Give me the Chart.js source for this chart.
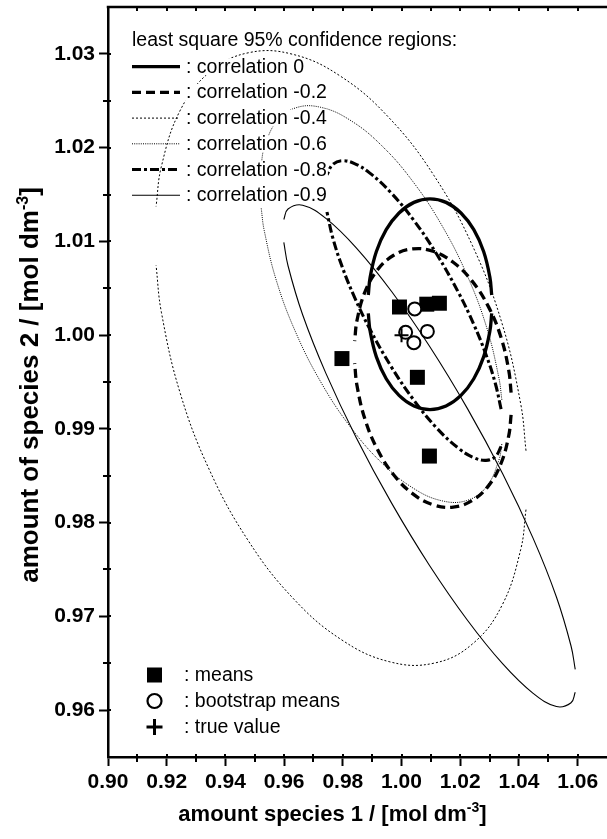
<!DOCTYPE html>
<html>
<head>
<meta charset="utf-8">
<script src="https://cdn.jsdelivr.net/npm/chart.js@4.4.1/dist/chart.umd.min.js"></script>
<style>
  html, body { margin: 0; padding: 0; background: #fff; }
  #wrap { width: 607px; height: 839px; }
</style>
</head>
<body>
<div id="wrap"><canvas id="c" width="607" height="839"></canvas></div>
<script>
const FONT = "'Liberation Sans', Arial, Helvetica, sans-serif";

// tick labels
const xTickLabels = ['0.90', '0.92', '0.94', '0.96', '0.98', '1.00', '1.02', '1.04', '1.06'];
const yTickLabels = ['0.96', '0.97', '0.98', '0.99', '1.00', '1.01', '1.02', '1.03'];

// 95 % confidence region boundaries, each as an upper and a lower branch over the same x
// correlation 0
const c00X  = [1.03072, 1.03008, 1.02797, 1.02462, 1.02025, 1.01516, 1.00970, 1.00424, 0.99915, 0.99478, 0.99143, 0.98932, 0.98868];
const c00Hi = [1.00428, 1.00621, 1.00892, 1.01125, 1.01303, 1.01416, 1.01454, 1.01416, 1.01303, 1.01125, 1.00892, 1.00621, 1.00428];
const c00Lo = [1.00232, 1.00039, 0.99768, 0.99535, 0.99357, 0.99244, 0.99206, 0.99244, 0.99357, 0.99535, 0.99768, 1.00039, 1.00232];
// correlation -0.2
const c02X  = [1.03733, 1.03652, 1.03385, 1.02960, 1.02406, 1.01760, 1.01068, 1.00376, 0.99731, 0.99177, 0.98751, 0.98484, 0.98403];
const c02Hi = [0.99386, 0.99626, 0.99980, 1.00304, 1.00576, 1.00777, 1.00895, 1.00920, 1.00852, 1.00694, 1.00458, 1.00159, 0.99936];
const c02Lo = [0.99150, 0.98927, 0.98628, 0.98392, 0.98235, 0.98166, 0.98191, 0.98309, 0.98510, 0.98782, 0.99106, 0.99460, 0.99700];
// correlation -0.4
const c04X  = [1.04241, 1.04060, 1.03427, 1.02420, 1.01108, 0.99579, 0.97939, 0.96299, 0.94771, 0.93458, 0.92451, 0.91818, 0.91637];
const c04Hi = [0.98767, 0.99267, 1.00122, 1.00952, 1.01701, 1.02317, 1.02758, 1.02995, 1.03011, 1.02805, 1.02392, 1.01799, 1.01373];
const c04Lo = [0.98139, 0.97713, 0.97120, 0.96707, 0.96501, 0.96517, 0.96754, 0.97195, 0.97811, 0.98560, 0.99390, 1.00245, 1.00745];
// correlation -0.6
const c06X  = [1.03418, 1.03318, 1.02904, 1.02246, 1.01389, 1.00390, 0.99319, 0.98248, 0.97249, 0.96392, 0.95734, 0.95320, 0.95220];
const c06Hi = [0.99310, 0.99543, 1.00078, 1.00630, 1.01162, 1.01637, 1.02023, 1.02293, 1.02430, 1.02424, 1.02276, 1.01994, 1.01823];
const c06Lo = [0.98839, 0.98668, 0.98387, 0.98238, 0.98232, 0.98369, 0.98639, 0.99025, 0.99500, 1.00032, 1.00584, 1.01119, 1.01352];
// correlation -0.8
const c08X  = [1.03392, 1.03196, 1.02879, 1.02455, 1.01942, 1.01211, 1.00426, 0.99641, 0.98910, 0.98397, 0.97973, 0.97656, 0.97460];
const c08Hi = [0.99211, 0.99484, 0.99791, 1.00119, 1.00453, 1.00857, 1.01221, 1.01519, 1.01731, 1.01830, 1.01860, 1.01820, 1.01712];
const c08Lo = [0.98812, 0.98704, 0.98664, 0.98694, 0.98793, 0.99005, 0.99303, 0.99667, 1.00071, 1.00405, 1.00733, 1.01040, 1.01313];
// correlation -0.9
const c09X  = [1.05918, 1.05775, 1.05277, 1.04484, 1.03450, 1.02246, 1.00954, 0.99662, 0.98458, 0.97424, 0.96631, 0.96133, 0.95990];
const c09Hi = [0.96434, 0.96684, 0.97207, 0.97832, 0.98518, 0.99216, 0.99881, 1.00465, 1.00931, 1.01245, 1.01386, 1.01345, 1.01234];
const c09Lo = [0.96190, 0.96079, 0.96038, 0.96179, 0.96493, 0.96959, 0.97543, 0.98208, 0.98906, 0.99592, 1.00217, 1.00740, 1.00990];

// estimates
const meansX = [0.9993, 1.0086, 1.0129, 0.9797, 1.0054, 1.0095];
const meansY = [1.0030, 1.0033, 1.0034, 0.9975, 0.9955, 0.9871];
const bootX  = [1.0045, 1.0014, 1.0088, 1.0042];
const bootY  = [1.0028, 1.0003, 1.0004, 0.9992];
const trueX  = [1.000];
const trueY  = [1.000];

const regionLabels = ['correlation 0', 'correlation -0.2', 'correlation -0.4',
                      'correlation -0.6', 'correlation -0.8', 'correlation -0.9'];
const markerLabels = ['means', 'bootstrap means', 'true value'];

// line styles of the six regions
const regionStyles = [
  { width: 3.3, dash: [] },
  { width: 3.3, dash: [9, 5] },
  { width: 1.0, dash: [2, 2] },
  { width: 1.0, dash: [1, 1.2] },
  { width: 3.1, dash: [9, 3, 3, 3] },
  { width: 1.1, dash: [] }
];

const regions = [
  [c00X, c00Hi, c00Lo], [c02X, c02Hi, c02Lo], [c04X, c04Hi, c04Lo],
  [c06X, c06Hi, c06Lo], [c08X, c08Hi, c08Lo], [c09X, c09Hi, c09Lo]
];

const pts = (xs, ys) => xs.map((x, i) => ({ x: x, y: ys[i] }));

const datasets = [];
datasets.push({ label: 'true value', data: pts(trueX, trueY), pointStyle: 'cross', pointRadius: 7,
  borderColor: '#000', borderWidth: 2, showLine: false, order: 0 });
datasets.push({ label: 'bootstrap means', data: pts(bootX, bootY), pointStyle: 'circle', pointRadius: 6.5,
  backgroundColor: '#fff', borderColor: '#000', borderWidth: 2, showLine: false, order: 1 });
datasets.push({ label: 'means', data: pts(meansX, meansY), pointStyle: 'rect', pointRadius: 10.6,
  backgroundColor: '#000', borderColor: '#000', borderWidth: 0, showLine: false, order: 2 });
regions.forEach((r, k) => {
  [r[1], r[2]].forEach((ys, b) => {
    datasets.push({
      label: regionLabels[k] + (b ? ' lower' : ' upper'),
      data: pts(r[0], ys),
      showLine: true, pointRadius: 0, tension: 0.4, fill: false,
      borderColor: '#000', borderWidth: regionStyles[k].width, borderDash: regionStyles[k].dash,
      borderCapStyle: 'butt', order: 3
    });
  });
});

const fixedTicks = (list) => (scale) => {
  scale.ticks = list.map(t => ({ value: parseFloat(t), label: t }));
};
const tickLabel = (list) => (v) => {
  const t = list.find(s => Math.abs(parseFloat(s) - v) < 1e-6);
  return t === undefined ? '' : t;
};

// draws "text" + raised superscript + tail, centred at (cx, baseline)
function drawSupText(ctx, main, sup, tail, size, cx, base) {
  const big = `bold ${size}px ${FONT}`;
  const small = `bold ${Math.round(size * 0.62)}px ${FONT}`;
  ctx.font = big; const w1 = ctx.measureText(main).width; const w3 = ctx.measureText(tail).width;
  ctx.font = small; const w2 = ctx.measureText(sup).width;
  let x = cx - (w1 + w2 + w3) / 2;
  ctx.textAlign = 'left'; ctx.textBaseline = 'alphabetic';
  ctx.font = big; ctx.fillText(main, x, base); x += w1;
  ctx.font = small; ctx.fillText(sup, x, base - size * 0.4); x += w2;
  ctx.font = big; ctx.fillText(tail, x, base);
}

const decorPlugin = {
  id: 'decor',
  beforeDraw(chart) {
    const ctx = chart.ctx;
    ctx.save(); ctx.fillStyle = '#fff'; ctx.fillRect(0, 0, chart.width, chart.height); ctx.restore();
  },
  afterDraw(chart) {
    const { ctx, chartArea: a } = chart;
    const xs = chart.scales.x, ys = chart.scales.y;
    ctx.save();
    ctx.strokeStyle = '#000';
    ctx.setLineDash([]);

    // top frame line with inward ticks
    ctx.lineWidth = 2.5;
    ctx.beginPath(); ctx.moveTo(a.left - 1.25, a.top); ctx.lineTo(chart.width, a.top); ctx.stroke();

    ctx.lineWidth = 2;
    ctx.beginPath();
    for (let i = 0; i <= 16; i++) {
      const v = 0.90 + i * 0.01;
      const px = Math.round(xs.getPixelForValue(v));
      ctx.moveTo(px, a.bottom); ctx.lineTo(px, a.bottom - 3);
      ctx.moveTo(px, a.top); ctx.lineTo(px, a.top + 4);
      if (i % 2 === 1) { ctx.moveTo(px, a.bottom); ctx.lineTo(px, a.bottom + 5); }
    }
    for (let i = 1; i <= 15; i++) {
      const v = 0.955 + i * 0.005;
      const py = Math.round(ys.getPixelForValue(v));
      ctx.moveTo(a.left, py); ctx.lineTo(a.left + 3, py);
      if (i % 2 === 0) { ctx.moveTo(a.left, py); ctx.lineTo(a.left - 5, py); }
    }
    ctx.stroke();

    // axis titles
    ctx.fillStyle = '#000';
    drawSupText(ctx, 'amount species 1 / [mol dm', '-3', ']', 22, 332.5, 821);
    ctx.save();
    ctx.translate(38, 385);
    ctx.rotate(-Math.PI / 2);
    drawSupText(ctx, 'amount of species 2 / [mol dm', '-3', ']', 26, 0, 0);
    ctx.restore();

    // legend of the confidence regions
    ctx.font = `19.5px ${FONT}`;
    ctx.textAlign = 'left'; ctx.textBaseline = 'alphabetic';
    ctx.fillStyle = '#000';
    ctx.fillText('least square 95% confidence regions:', 132, 46);
    regionLabels.forEach((lab, i) => {
      const cy = 66.7 + i * 25.7;
      const st = regionStyles[i];
      ctx.lineWidth = st.width;
      ctx.setLineDash(st.dash);
      ctx.beginPath(); ctx.moveTo(132, cy); ctx.lineTo(180, cy); ctx.stroke();
      ctx.setLineDash([]);
      const txt = ': ' + lab;
      const w = ctx.measureText(txt).width;
      ctx.fillStyle = '#fff';
      ctx.fillRect(184, cy - 8.5, w + 3, 17);
      ctx.fillStyle = '#000';
      ctx.fillText(txt, 186, cy + 6);
    });

    // legend of the markers
    const mx = 154.5;
    const rows = [675, 701, 727];
    ctx.fillRect(mx - 7.5, rows[0] - 7.5, 15, 15);
    ctx.lineWidth = 2.2;
    ctx.beginPath(); ctx.arc(mx, rows[1], 7, 0, Math.PI * 2); ctx.stroke();
    ctx.lineWidth = 3;
    ctx.beginPath();
    ctx.moveTo(mx - 8, rows[2]); ctx.lineTo(mx + 8, rows[2]);
    ctx.moveTo(mx, rows[2] - 8); ctx.lineTo(mx, rows[2] + 8);
    ctx.stroke();
    markerLabels.forEach((lab, i) => ctx.fillText(': ' + lab, 184, rows[i] + 6));
    ctx.restore();
  }
};

new Chart(document.getElementById('c'), {
  type: 'scatter',
  data: { datasets: datasets },
  options: {
    responsive: false,
    animation: false,
    devicePixelRatio: 1,
    events: [],
    layout: { autoPadding: false, padding: { top: 7, left: 0, right: 0, bottom: 0 } },
    plugins: { legend: { display: false }, tooltip: { enabled: false } },
    scales: {
      x: {
        type: 'linear', position: 'bottom', min: 0.90, max: 1.07,
        afterBuildTicks: fixedTicks(xTickLabels),
        ticks: { autoSkip: false, maxRotation: 0, minRotation: 0,
                 padding: 4, color: '#000', font: { family: FONT, size: 21, weight: 'bold' },
                 callback: tickLabel(xTickLabels) },
        grid: { drawOnChartArea: false, drawTicks: true, tickLength: 9, tickWidth: 2, tickColor: '#000' },
        border: { display: true, color: '#000', width: 2.5 },
        afterFit: (s) => { s.height = 82; s.paddingLeft = 0; s.paddingRight = 0; }
      },
      y: {
        type: 'linear', position: 'left', min: 0.955, max: 1.035,
        afterBuildTicks: fixedTicks(yTickLabels),
        ticks: { autoSkip: false,
                 padding: 4, color: '#000', font: { family: FONT, size: 21, weight: 'bold' },
                 callback: tickLabel(yTickLabels) },
        grid: { drawOnChartArea: false, drawTicks: true, tickLength: 9, tickWidth: 2, tickColor: '#000' },
        border: { display: true, color: '#000', width: 2.5 },
        afterFit: (s) => { s.width = 108; s.paddingTop = 0; s.paddingBottom = 0; }
      }
    }
  },
  plugins: [decorPlugin]
});
</script>
</body>
</html>
